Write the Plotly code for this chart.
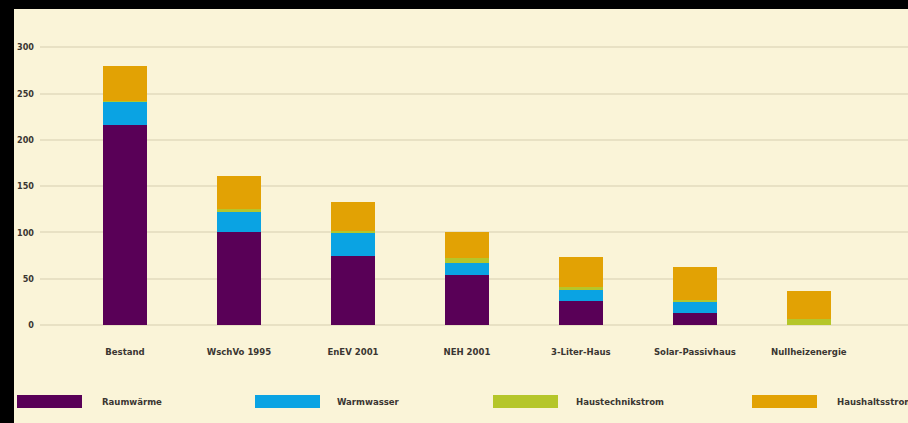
import plotly.graph_objects as go

categories = ["Bestand", "WschVo 1995", "EnEV 2001", "NEH 2001", "3-Liter-Haus", "Solar-Passivhaus", "Nullheizenergie"]
raumwaerme = [216, 100, 74, 54, 26, 13, 0]
warmwasser = [25, 22, 25, 13, 12, 12, 0]
haustechnikstrom = [1, 3, 3, 5, 3, 2, 6]
haushaltsstrom = [38, 36, 31, 28, 32, 36, 31]
series_names = ["Raumwärme", "Warmwasser", "Haustechnikstrom", "Haushaltsstrom"]
series_colors = ["#590057", "#0AA3E3", "#B5C62A", "#E2A204"]
ytick_vals = [0, 50, 100, 150, 200, 250, 300]

W, H = 908, 423
L, R, T, B = 40, 0, 40, 83
PW, PH = W - L - R, H - T - B

def px_x(p):
    return (p - L) / PW

def px_y(p):
    return (H - B - p) / PH

FONT = "Liberation Sans Narrow, DejaVu Sans Condensed, Arial Narrow, sans-serif"
TXT = "#3a3632"

fig = go.Figure()
for name, vals, col in zip(series_names, [raumwaerme, warmwasser, haustechnikstrom, haushaltsstrom], series_colors):
    fig.add_trace(go.Bar(x=categories, y=vals, name=name, marker=dict(color=col, line=dict(width=0)),
                         showlegend=False))

shapes = []
annotations = []
# black border strips
shapes.append(dict(type="rect", xref="paper", yref="paper", x0=px_x(0), x1=px_x(W), y0=px_y(9), y1=px_y(0),
                   fillcolor="black", line=dict(width=0), layer="above"))
shapes.append(dict(type="rect", xref="paper", yref="paper", x0=px_x(0), x1=px_x(14), y0=px_y(H), y1=px_y(0),
                   fillcolor="black", line=dict(width=0), layer="above"))
# custom legend
sw_left = [17, 255, 493, 752]
tx_left = [100, 335, 574, 835]
for name, col, sx, tx in zip(series_names, series_colors, sw_left, tx_left):
    shapes.append(dict(type="rect", xref="paper", yref="paper", x0=px_x(sx), x1=px_x(sx + 65),
                       y0=px_y(408), y1=px_y(395), fillcolor=col, line=dict(width=0)))
    annotations.append(dict(text=name, xref="paper", yref="paper", x=px_x(tx), y=px_y(401.5),
                            xanchor="left", yanchor="middle", showarrow=False,
                            font=dict(family=FONT, size=9.5, color=TXT, weight=700)))

fig.update_layout(
    width=W, height=H,
    margin=dict(l=L, r=R, t=T, b=B, pad=0),
    paper_bgcolor="#FAF4D8",
    plot_bgcolor="#FAF4D8",
    barmode="stack",
    bargap=0.62,
    shapes=shapes,
    annotations=annotations,
    xaxis=dict(range=[-0.746, 6.87], showgrid=False, zeroline=False, showline=False, ticks="",
               tickfont=dict(family=FONT, size=9.5, color=TXT, weight=700), ticklabelstandoff=4),
    yaxis=dict(range=[-16.2, 307.8], tickvals=ytick_vals, showgrid=True, gridcolor="#E8E1C4", gridwidth=2,
               zeroline=False, showline=False, ticks="",
               tickfont=dict(family=FONT, size=9, color=TXT, weight=700), ticklabelstandoff=5),
)

fig.write_html("out.html")
